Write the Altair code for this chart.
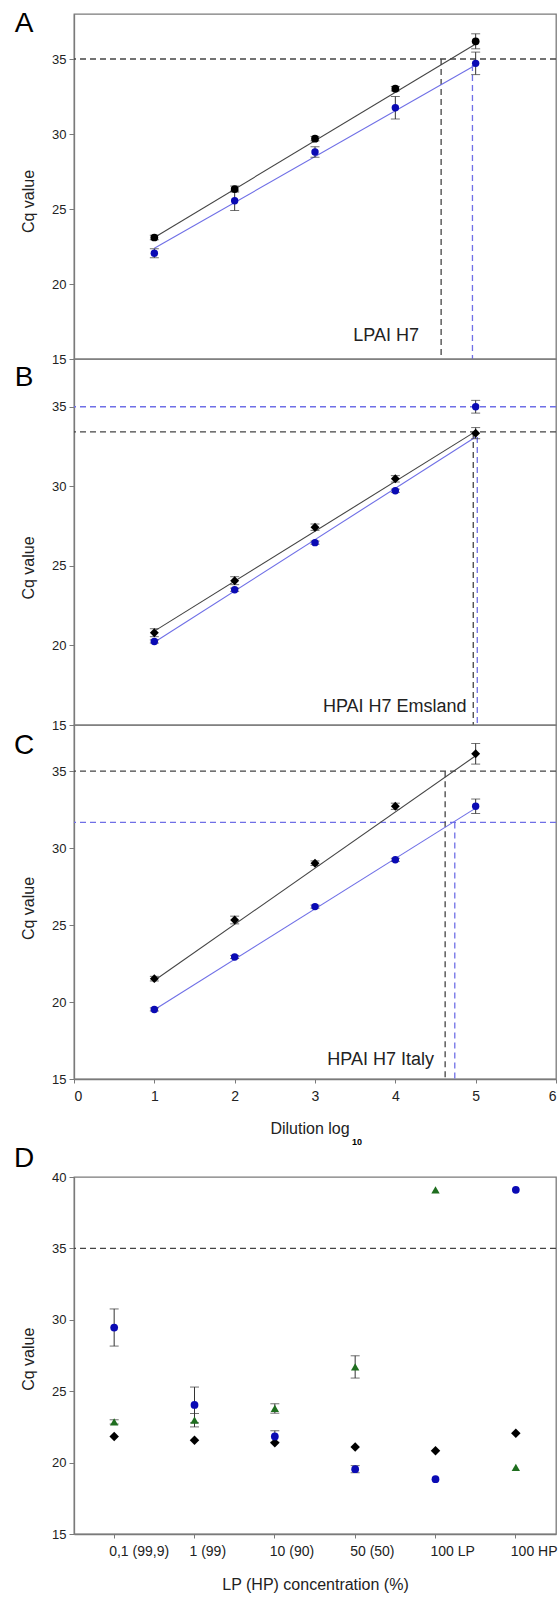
import altair as alt
import pandas as pd

# ---------------- data ----------------
DIL = [1, 2, 3, 4, 5]
FIT_X = [1, 5]

A_BLACK = [23.1, 26.33, 29.69, 33.02, 36.18]
A_BLACK_ERR = [0.15, 0.2, 0.15, 0.15, 0.5]
A_BLUE = [22.05, 25.55, 28.8, 31.75, 34.71]
A_BLUE_ERR = [0.3, 0.65, 0.35, 0.75, 0.75]
A_FIT_BLACK = [23.1, 36.0]
A_FIT_BLUE = [22.38, 34.6]
A_HLINES = [("black", 35.0)]
A_VLINES = [("black", 4.57, 35.0), ("blue", 4.96, 34.6)]

B_BLACK = [20.8, 24.07, 27.43, 30.47, 33.34]
B_BLACK_ERR = [0.25, 0.25, 0.2, 0.2, 0.35]
B_BLUE = [20.25, 23.5, 26.46, 29.72, 35.0]
B_BLUE_ERR = [0.1, 0.1, 0.1, 0.1, 0.4]
B_FIT_BLACK = [20.9, 33.45]
B_FIT_BLUE = [20.2, 33.1]
B_HLINES = [("blue", 35.0), ("black", 33.42)]
B_VLINES = [("black", 4.97, 33.42), ("blue", 5.02, 33.1)]

C_BLACK = [21.52, 25.33, 29.02, 32.72, 36.13]
C_BLACK_ERR = [0.15, 0.25, 0.15, 0.2, 0.67]
C_BLUE = [19.52, 22.93, 26.2, 29.24, 32.72]
C_BLUE_ERR = [0.1, 0.1, 0.1, 0.1, 0.47]
C_FIT_BLACK = [21.4, 36.0]
C_FIT_BLUE = [19.5, 32.6]
C_HLINES = [("black", 35.0), ("blue", 31.67)]
C_VLINES = [("black", 4.62, 35.0), ("blue", 4.74, 31.67)]

D_CATS = ["0,1 (99,9)", "1 (99)", "10 (90)", "50 (50)", "100 LP", "100 HP"]
D_BLUE = [29.46, 24.04, 21.83, 19.54, 18.84, 39.1]
D_BLUE_ERR = [1.3, 1.25, 0.4, 0.25, 0.0, 0.0]
D_GREEN = [22.85, 22.97, 23.79, 26.7, 39.1, 19.66]
D_GREEN_ERR = [0.15, 0.47, 0.33, 0.78, 0.0, 0.0]
D_BLACK = [21.83, 21.57, 21.39, 21.1, 20.83, 22.06]
D_CUTOFF = [35.0]

Y_TICKS = [15, 20, 25, 30, 35]
X_TICKS = [0, 1, 2, 3, 4, 5, 6]

# ---------------- styles ----------------
FONT = "Liberation Sans"
GRAY = "#7a7a7a"
BLACK_LINE = "#4a4a4a"
BLACK_DASH = "#444444"
BLUE_PT = "#0a0ab4"
BLUE_LINE = "#6262ea"
BLUE_DASH = "#6f6fe6"
GREEN = "#1f6e1f"
ERR = "#333333"
W = 482
DASH = [6, 4]


def ycfg(title_y, domain_max, ticks):
    return alt.Y(
        "y:Q",
        scale=alt.Scale(domain=[15, domain_max], nice=False, zero=False),
        axis=alt.Axis(values=ticks, title="Cq value", titleX=-46, titleY=title_y,
                      titleAngle=270, titleAlign="center", titleBaseline="middle",
                      titleFontSize=16, labelFontSize=13, tickSize=5, labelPadding=3),
    )


def curve_panel(letter, letter_y, label, label_x, label_y, title_y, height,
                black, black_err, blue, blue_err, fit_black, fit_blue,
                hlines, vlines, black_shape, show_x):
    pts = pd.DataFrame({
        "x": DIL * 2,
        "y": black + blue,
        "err": black_err + blue_err,
        "series": ["black"] * 5 + ["blue"] * 5,
    })
    pts["lo"] = pts["y"] - pts["err"]
    pts["hi"] = pts["y"] + pts["err"]
    fits = pd.DataFrame({"x": FIT_X * 2, "y": fit_black + fit_blue,
                         "series": ["black"] * 2 + ["blue"] * 2})
    hdf = pd.DataFrame(hlines, columns=["series", "y"])
    vdf = pd.DataFrame(vlines, columns=["series", "x", "y"])
    vdf["y2"] = 15

    if show_x:
        xaxis = alt.Axis(values=X_TICKS, format="d", title="Dilution log", labelFontSize=14,
                         tickSize=4, labelPadding=6, titleFontSize=16, titleX=235.5,
                         titleY=49.7, titleAlign="center", titleBaseline="middle")
    else:
        xaxis = None
    X = alt.X("x:Q", scale=alt.Scale(domain=[0, 6], nice=False, zero=False), axis=xaxis)
    Y = ycfg(title_y, 38, Y_TICKS)
    dash_color = alt.Color("series:N", scale=alt.Scale(domain=["black", "blue"],
                                                        range=[BLACK_DASH, BLUE_DASH]), legend=None)
    line_color = alt.Color("series:N", scale=alt.Scale(domain=["black", "blue"],
                                                        range=[BLACK_LINE, BLUE_LINE]), legend=None)

    h = alt.Chart(hdf).mark_rule(strokeDash=DASH, strokeWidth=1.3).encode(y=Y, color=dash_color)
    v = alt.Chart(vdf).mark_rule(strokeDash=DASH, strokeWidth=1.3).encode(
        x=X, y=Y, y2="y2:Q", color=dash_color)
    fl = alt.Chart(fits).mark_line(strokeWidth=1.1).encode(
        x=X, y=Y, color=line_color, detail="series:N")
    eb = alt.Chart(pts).mark_rule(color=ERR, strokeWidth=1).encode(x=X, y=alt.Y("lo:Q"), y2="hi:Q")
    cap_lo = alt.Chart(pts).mark_tick(color=ERR, orient="horizontal", size=9, thickness=1).encode(
        x=X, y=alt.Y("lo:Q"))
    cap_hi = alt.Chart(pts).mark_tick(color=ERR, orient="horizontal", size=9, thickness=1).encode(
        x=X, y=alt.Y("hi:Q"))
    bsize = 60 if black_shape == "circle" else 80
    pb = alt.Chart(pts).transform_filter(alt.datum.series == "black").mark_point(
        shape=black_shape, filled=True, color="#000000", opacity=1, size=bsize).encode(x=X, y=Y)
    pu = alt.Chart(pts).transform_filter(alt.datum.series == "blue").mark_point(
        shape="circle", filled=True, color=BLUE_PT, opacity=1, size=55).encode(x=X, y=Y)
    lab = alt.Chart(pd.DataFrame({"t": [label]})).mark_text(
        align="right", baseline="middle", fontSize=18, font=FONT, color="#222222").encode(
        text="t:N", x=alt.value(label_x), y=alt.value(label_y))
    let = alt.Chart(pd.DataFrame({"t": [letter]})).mark_text(
        align="center", baseline="middle", fontSize=28, font=FONT, color="#000000").encode(
        text="t:N", x=alt.value(-50), y=alt.value(letter_y))
    layers = [h, v, fl, eb, cap_lo, cap_hi, pb, pu, lab, let]
    if show_x:
        sub = alt.Chart(pd.DataFrame({"t": ["10"]})).mark_text(
            align="left", baseline="middle", fontSize=9, font=FONT, fontWeight="bold",
            color="#000000").encode(text="t:N", x=alt.value(278), y=alt.value(417.3))
        layers.append(sub)
    return alt.layer(*layers).properties(width=W, height=height)


A = curve_panel("A", 9.7, "LPAI H7", 345, 321.7, 187, 345,
                A_BLACK, A_BLACK_ERR, A_BLUE, A_BLUE_ERR, A_FIT_BLACK, A_FIT_BLUE,
                A_HLINES, A_VLINES, "circle", False)
B = curve_panel("B", 18.5, "HPAI H7 Emsland", 392.6, 347.7, 208.5, 366,
                B_BLACK, B_BLACK_ERR, B_BLUE, B_BLUE_ERR, B_FIT_BLACK, B_FIT_BLUE,
                B_HLINES, B_VLINES, "diamond", False)
C = curve_panel("C", 21, "HPAI H7 Italy", 360, 335.3, 183, 354,
                C_BLACK, C_BLACK_ERR, C_BLUE, C_BLUE_ERR, C_FIT_BLACK, C_FIT_BLUE,
                C_HLINES, C_VLINES, "diamond", True)

spacer = alt.Chart(pd.DataFrame({"t": [""]})).mark_text().encode(
    text="t:N", x=alt.value(0), y=alt.value(0)).properties(
    width=W, height=98, view=alt.ViewBackground(stroke="transparent"))

# ---------------- panel D ----------------
ddf = pd.DataFrame({
    "cat": D_CATS * 3,
    "y": D_BLUE + D_GREEN + D_BLACK,
    "err": D_BLUE_ERR + D_GREEN_ERR + [0.0] * 6,
    "series": ["blue"] * 6 + ["green"] * 6 + ["black"] * 6,
})
ddf["lo"] = ddf["y"] - ddf["err"]
ddf["hi"] = ddf["y"] + ddf["err"]
XD = alt.X("cat:N", sort=D_CATS,
           scale=alt.Scale(type="band", domain=D_CATS, paddingInner=0, paddingOuter=0),
           axis=alt.Axis(title="LP (HP) concentration (%)", labelAngle=0, labelAlign="left",
                         labelOffset=-5, labelFontSize=14, tickSize=4, labelPadding=6,
                         titleFontSize=16, titleX=241, titleY=50, titleAlign="center",
                         titleBaseline="middle"))
YD = ycfg(181.7, 40, [15, 20, 25, 30, 35, 40])
errd = ddf[ddf["err"] > 0]
d_h = alt.Chart(pd.DataFrame({"y": D_CUTOFF})).mark_rule(
    strokeDash=DASH, strokeWidth=1.3, color=BLACK_DASH).encode(y=YD)
d_eb = alt.Chart(errd).mark_rule(color=ERR, strokeWidth=1).encode(x=XD, y=alt.Y("lo:Q"), y2="hi:Q")
d_cl = alt.Chart(errd).mark_tick(color=ERR, orient="horizontal", size=9, thickness=1).encode(
    x=XD, y=alt.Y("lo:Q"))
d_ch = alt.Chart(errd).mark_tick(color=ERR, orient="horizontal", size=9, thickness=1).encode(
    x=XD, y=alt.Y("hi:Q"))
d_black = alt.Chart(ddf).transform_filter(alt.datum.series == "black").mark_point(
    shape="diamond", filled=True, color="#000000", opacity=1, size=90).encode(x=XD, y=YD)
d_green = alt.Chart(ddf).transform_filter(alt.datum.series == "green").mark_point(
    shape="triangle-up", filled=True, color=GREEN, opacity=1, size=70).encode(x=XD, y=YD)
d_blue = alt.Chart(ddf).transform_filter(alt.datum.series == "blue").mark_point(
    shape="circle", filled=True, color=BLUE_PT, opacity=1, size=60).encode(x=XD, y=YD)
d_let = alt.Chart(pd.DataFrame({"t": ["D"]})).mark_text(
    align="center", baseline="middle", fontSize=28, font=FONT, color="#000000").encode(
    text="t:N", x=alt.value(-50), y=alt.value(-18.5))
D = alt.layer(d_h, d_eb, d_cl, d_ch, d_black, d_green, d_blue, d_let).properties(width=W, height=357)

chart = alt.vconcat(A, B, C, spacer, D, spacing=0, bounds="flush").properties(
    padding={"left": 13, "top": 9, "right": 0, "bottom": 0}
).configure_view(stroke=GRAY, strokeWidth=1.3).configure_axis(
    domainColor=GRAY, tickColor=GRAY, labelFont=FONT, titleFont=FONT, labelColor="#222222",
    titleColor="#222222", grid=False, titleFontWeight="normal", domainWidth=1.3
)

chart.save("out.html", embed_options={"renderer": "svg", "actions": False})
